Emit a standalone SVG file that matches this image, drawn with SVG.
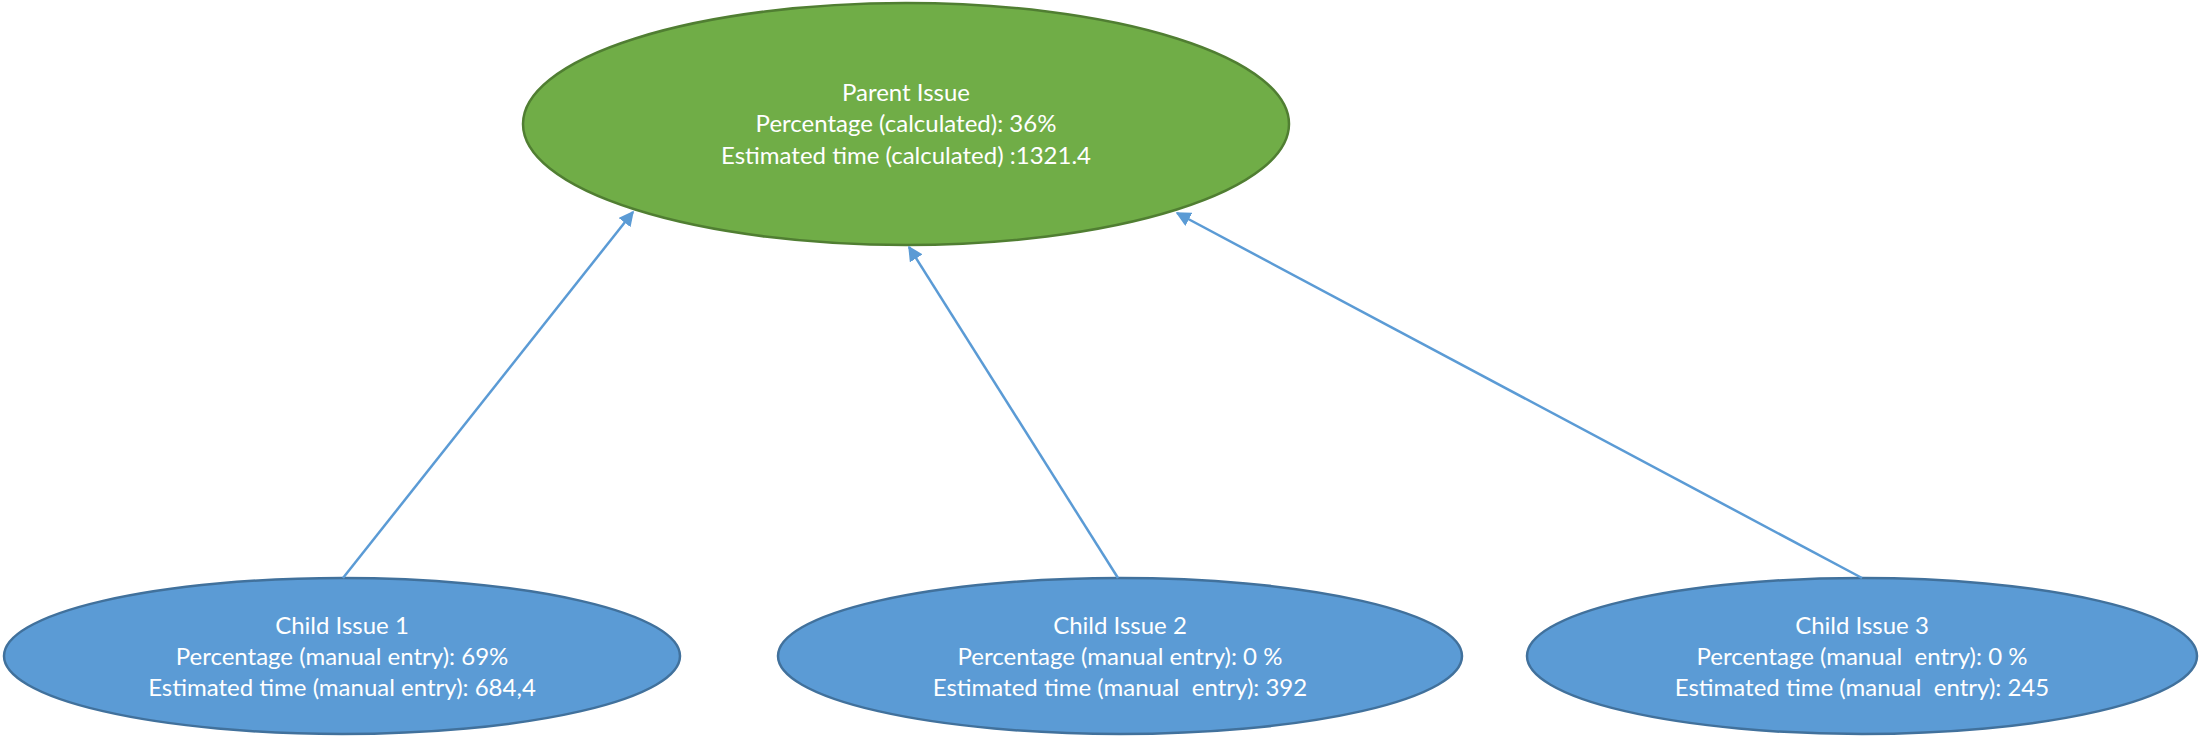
<svg xmlns="http://www.w3.org/2000/svg" width="2200" height="736" viewBox="0 0 2200 736">
<defs>
<style>
.parent{fill:#70AD47;stroke:#507E32;stroke-width:2.5}
.child{fill:#5B9BD5;stroke:#41719C;stroke-width:2.5}
.lbl{font-family:Lato,"Liberation Sans",sans-serif;font-size:24px;fill:#FFFFFF;text-anchor:middle}
.conn{stroke:#5B9BD5;stroke-width:2.5;fill:none}
</style>
<marker id="arr" viewBox="0 0 10 10" refX="9" refY="5" markerWidth="6" markerHeight="6" markerUnits="strokeWidth" orient="auto">
<path d="M0,0 L10,5 L0,10 z" fill="#5B9BD5"/>
</marker>
</defs>
<rect width="2200" height="736" fill="#FFFFFF"/>
<g id="parent">
<ellipse class="parent" cx="906" cy="124" rx="383" ry="121"/>
<text class="lbl" x="906" y="101">Parent Issue</text>
<text class="lbl" x="906" y="132">Percentage (calculated): 36%</text>
<text class="lbl" x="906" y="164">Estimated time (calculated) :1321.4</text>
</g>
<g id="child1">
<ellipse class="child" cx="342" cy="656" rx="338" ry="78"/>
<text class="lbl" x="342" y="634">Child Issue 1</text>
<text class="lbl" x="342" y="665">Percentage (manual entry): 69%</text>
<text class="lbl" x="342" y="696">Estimated time (manual entry): 684,4</text>
</g>
<g id="child2">
<ellipse class="child" cx="1120" cy="656" rx="342" ry="78"/>
<text class="lbl" x="1120" y="634">Child Issue 2</text>
<text class="lbl" x="1120" y="665">Percentage (manual entry): 0 %</text>
<text class="lbl" x="1120" y="696" xml:space="preserve">Estimated time (manual  entry): 392</text>
</g>
<g id="child3">
<ellipse class="child" cx="1862" cy="656" rx="335" ry="78"/>
<text class="lbl" x="1862" y="634">Child Issue 3</text>
<text class="lbl" x="1862" y="665" xml:space="preserve">Percentage (manual  entry): 0 %</text>
<text class="lbl" x="1862" y="696" xml:space="preserve">Estimated time (manual  entry): 245</text>
</g>
<g id="connectors">
<line class="conn" x1="343" y1="578" x2="633" y2="212" marker-end="url(#arr)"/>
<line class="conn" x1="1118" y1="578" x2="909" y2="247" marker-end="url(#arr)"/>
<line class="conn" x1="1862" y1="578" x2="1177" y2="213" marker-end="url(#arr)"/>
</g>
</svg>
